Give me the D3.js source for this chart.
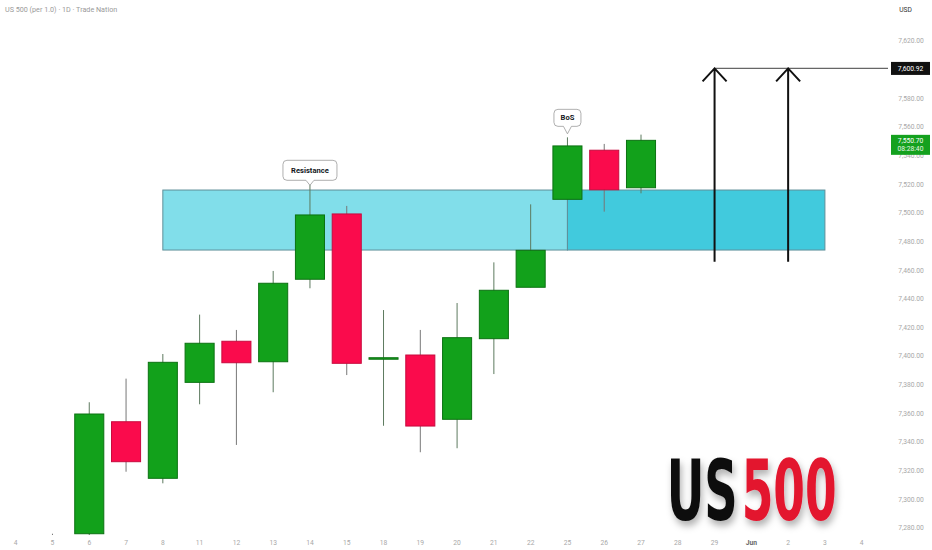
<!DOCTYPE html>
<html><head><meta charset="utf-8">
<script src="https://cdn.jsdelivr.net/npm/d3@7"></script>
<style>body{margin:0;background:#fff}svg{display:block}</style>
</head><body>
<svg id="c" width="932" height="550"></svg>
<script>
// ---------- data ----------
const xTickLabels = ["4","5","6","7","8","11","12","13","14","15","18","19","20","21","22","25","26","27","28","29","Jun","2","3","4"];
const candleDates = ["5","6","7","8","11","12","13","14","15","18","19","20","21","22","25","26","27"];
const opens  = [7270, 7276.0, 7354.2, 7314.7, 7381.7, 7410.4, 7396.1, 7453.7, 7499.3, 7398.0, 7400.8, 7355.9, 7412.2, 7448.1, 7509.5, 7543.8, 7517.6];
const highs  = [7276, 7367.8, 7384.3, 7401.5, 7429.0, 7418.3, 7459.5, 7520.0, 7504.9, 7432.2, 7418.3, 7437.1, 7465.5, 7506.0, 7552.8, 7548.2, 7554.7];
const lows   = [7255, 7270.0, 7319.3, 7311.2, 7366.4, 7338.0, 7374.8, 7447.4, 7386.8, 7351.4, 7332.9, 7335.7, 7387.5, 7448.1, 7509.5, 7500.9, 7513.7];
const closes = [7262, 7359.6, 7326.3, 7395.7, 7409.0, 7395.4, 7450.9, 7498.6, 7395.0, 7398.9, 7351.2, 7412.9, 7446.0, 7473.9, 7546.8, 7516.2, 7550.7];
const priceTicks = [7280,7300,7320,7340,7360,7380,7400,7420,7440,7460,7480,7500,7520,7540,7560,7580,7600,7620];
const zoneTop = 7516.0, zoneBottom = 7474.1;
const zoneStart = "8", zoneSplit = "25", zoneEnd = "3";
const arrowDates = ["29","2"];
const arrowFrom = 7466, targetPrice = 7600.92;
const lastPrice = 7550.70, countdown = "08:28:40";
const title = "US 500 (per 1.0) · 1D · Trade Nation";
const logoParts = ["US","500"];

// ---------- scales ----------
const svg = d3.select("#c");
const idx = d => xTickLabels.indexOf(d);
const x = d3.scalePoint().domain(d3.range(xTickLabels.length)).range([15.7, 861.7]);
const y = d3.scaleLinear().domain([7280, 7620]).range([528, 41.1]);
const X = d => x(idx(d));
const bw = x.step() * 0.79;
const font = "Roboto, 'Noto Sans', sans-serif";

const defs = svg.append("defs");
defs.append("clipPath").attr("id","plot").append("rect").attr("x",0).attr("y",0).attr("width",888).attr("height",535);
const f = defs.append("filter").attr("id","sh").attr("x","-20%").attr("y","-20%").attr("width","150%").attr("height","160%");
f.append("feDropShadow").attr("dx",2).attr("dy",5).attr("stdDeviation",3.5).attr("flood-color","#000").attr("flood-opacity",0.3);

const plot = svg.append("g").attr("clip-path","url(#plot)");

// zones
plot.append("rect").attr("x",X(zoneStart)).attr("y",y(zoneTop))
  .attr("width",X(zoneSplit)-X(zoneStart)).attr("height",y(zoneBottom)-y(zoneTop))
  .attr("fill","#81deea").attr("stroke","#5f8f99").attr("stroke-width",1);
plot.append("rect").attr("x",X(zoneSplit)).attr("y",y(zoneTop))
  .attr("width",X(zoneEnd)-X(zoneSplit)).attr("height",y(zoneBottom)-y(zoneTop))
  .attr("fill","#41cadd").attr("stroke","#5f8f99").attr("stroke-width",1);

// candles
const candles = candleDates.map((d,i)=>({d, o:opens[i], h:highs[i], l:lows[i], c:closes[i]}));
const cg = plot.append("g");
cg.selectAll("line.w").data(candles).join("line").attr("class","w")
  .attr("x1",d=>X(d.d)).attr("x2",d=>X(d.d))
  .attr("y1",d=>y(d.h)).attr("y2",d=>y(d.l))
  .attr("stroke",d=>d.c>=d.o?"#5d7a5f":"#777").attr("stroke-width",1);
cg.selectAll("rect.b").data(candles).join("rect").attr("class","b")
  .attr("x",d=>X(d.d)-bw/2).attr("width",bw)
  .attr("y",d=>y(Math.max(d.o,d.c)))
  .attr("height",d=>Math.max(1.5, Math.abs(y(d.o)-y(d.c))))
  .attr("fill",d=>d.c>=d.o?"#12a11b":"#fa0b4c")
  .attr("stroke",d=>d.c>=d.o?"#0c7212":"#c80a3e").attr("stroke-width",1);

// target line and arrows
plot.append("line").attr("x1",X(arrowDates[0])).attr("x2",891)
  .attr("y1",y(targetPrice)).attr("y2",y(targetPrice)).attr("stroke","#666").attr("stroke-width",1.2);
arrowDates.forEach(d=>{
  const ax = X(d), ty = y(targetPrice), by = y(arrowFrom);
  plot.append("path").attr("d",`M${ax},${by}V${ty}M${ax-12},${ty+13}L${ax},${ty}L${ax+12},${ty+13}`)
    .attr("fill","none").attr("stroke","#111").attr("stroke-width",2);
});

// callouts
function callout(cx, tipY, w, h, gap, text){
  const y1 = tipY - gap, y0 = y1 - h, x0 = cx - w/2, x1 = cx + w/2, r = 4, n = 4;
  const p = `M${x0+r},${y0}H${x1-r}Q${x1},${y0} ${x1},${y0+r}V${y1-r}Q${x1},${y1} ${x1-r},${y1}H${cx+n}L${cx},${tipY}L${cx-n},${y1}H${x0+r}Q${x0},${y1} ${x0},${y1-r}V${y0+r}Q${x0},${y0} ${x0+r},${y0}Z`;
  svg.append("path").attr("d",p).attr("fill","#fff").attr("stroke","#9a9a9a").attr("stroke-width",0.8);
  svg.append("text").attr("x",cx).attr("y",y0+h/2).attr("dy","0.35em").attr("text-anchor","middle")
    .attr("font-family",font).attr("font-weight","bold").attr("font-size",7.6).attr("fill","#131722").text(text);
}
const rI = candleDates.indexOf("14"), bI = candleDates.indexOf("25");
callout(X("14"), y(highs[rI]) + 1, 54, 20, 5, "Resistance");
callout(X("25"), y(highs[bI]) - 3.5, 27, 17, 7.5, "BoS");

// y axis labels
svg.append("g").selectAll("text").data(priceTicks).join("text")
  .attr("x",911).attr("y",d=>y(d)).attr("dy","0.35em").attr("text-anchor","middle")
  .attr("font-family",font).attr("font-size",6.7).attr("fill","#a8a8a8")
  .text(d=>d3.format(",.2f")(d));
svg.append("text").attr("x",905.5).attr("y",9.3).attr("dy","0.35em").attr("text-anchor","middle")
  .attr("font-family",font).attr("font-size",6.7).attr("fill","#333").text("USD");

// price label boxes
svg.append("rect").attr("x",891).attr("y",y(targetPrice)-6.5).attr("width",39).attr("height",13).attr("fill","#111");
svg.append("text").attr("x",910.5).attr("y",y(targetPrice)).attr("dy","0.35em").attr("text-anchor","middle")
  .attr("font-family",font).attr("font-size",6.7).attr("fill","#fff").text(d3.format(",.2f")(targetPrice));
svg.append("rect").attr("x",891).attr("y",y(lastPrice)-5.5).attr("width",39).attr("height",20).attr("fill","#14a11e");
svg.append("text").attr("x",910.5).attr("y",y(lastPrice)).attr("dy","0.35em").attr("text-anchor","middle")
  .attr("font-family",font).attr("font-size",6.7).attr("fill","#fff").text(d3.format(",.2f")(lastPrice));
svg.append("text").attr("x",910.5).attr("y",y(lastPrice)+8.5).attr("dy","0.35em").attr("text-anchor","middle")
  .attr("font-family",font).attr("font-size",6.7).attr("fill","#e6f7e6").text(countdown);

// x axis labels
svg.append("g").selectAll("text").data(xTickLabels).join("text")
  .attr("x",(d,i)=>x(i)).attr("y",542.7).attr("dy","0.35em").attr("text-anchor","middle")
  .attr("font-family",font).attr("font-size",6.7)
  .attr("font-weight",d=>d==="Jun"?"bold":"normal")
  .attr("fill",d=>d==="Jun"?"#666":"#a8a8a8").text(d=>d);

// title
svg.append("text").attr("x",5).attr("y",9.3).attr("dy","0.35em")
  .attr("font-family",font).attr("font-size",7.2).attr("fill","#9a9a9a").text(title);

// US500 logo: each part horizontally compressed with a transform
const lf = "'Liberation Sans Narrow','DejaVu Sans Condensed','Roboto Condensed',sans-serif";
const logoG = svg.append("g").attr("filter","url(#sh)");
[[logoParts[0], 666.7, 71, "#111"], [logoParts[1], 741.7, 95, "#e3162f"]].forEach(([t, lx, lw, col])=>{
  const g = logoG.append("g");
  const tx = g.append("text").attr("x",0).attr("y",0).attr("font-family",lf).attr("font-weight","bold")
    .attr("font-size",84).attr("fill",col).text(t);
  const nat = tx.node().getComputedTextLength();
  g.attr("transform",`translate(${lx},520) scale(${lw/nat},1)`);
});
</script>
</body></html>
